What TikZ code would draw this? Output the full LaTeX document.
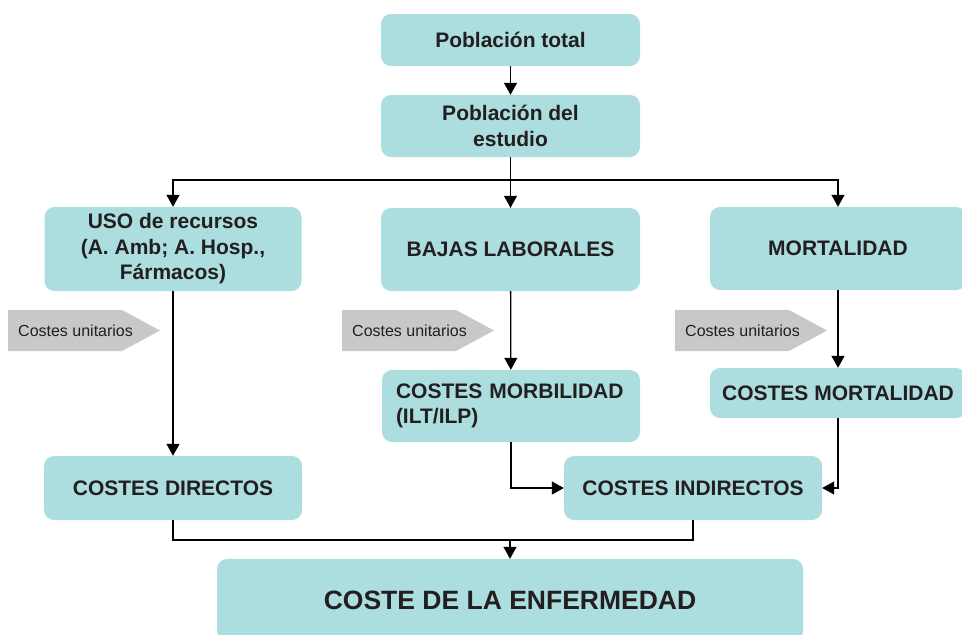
\documentclass[tikz,border=0pt]{standalone}
\usepackage{fontspec}
\setmainfont{Liberation Sans}
\usetikzlibrary{arrows.meta}
\definecolor{cajaazul}{HTML}{ACDDDF}
\definecolor{grisflecha}{HTML}{C8C8C8}
\definecolor{texto}{HTML}{231F20}

\begin{document}
\begin{tikzpicture}[x=1pt,y=-1pt,
  caja/.style={fill=cajaazul,rounded corners=10pt,inner sep=0pt,align=center,
    text=texto,font=\bfseries\fontsize{21}{25.5}\selectfont},
  flecha/.style={-{Triangle[length=12pt,width=13pt]},line width=1.3pt},
  linea/.style={line width=1.3pt},
  etiqueta/.style={text=texto,font=\fontsize{16}{18}\selectfont,inner sep=0pt}]
\useasboundingbox (0,0) rectangle (962,635);
% cajas
\node[caja,minimum width=259,minimum height=52] (total) at (510.5,40) {Población total};
\node[caja,minimum width=259,minimum height=62] (pobl) at (510.5,126) {Población del\\estudio};
\node[caja,minimum width=257,minimum height=84] (uso) at (173,249) {USO de recursos\\(A. Amb; A. Hosp.,\\Fármacos)};
\node[caja,minimum width=259,minimum height=83] (bajas) at (510.5,249.5) {BAJAS LABORALES};
\node[caja,minimum width=256,minimum height=83] (mort) at (838,248.5) {MORTALIDAD};
\node[caja,minimum width=258,minimum height=72,text width=230,align=left] (morb) at (511,406) {COSTES MORBILIDAD\\(ILT/ILP)};
\node[caja,minimum width=256,minimum height=50] (mortc) at (838,393) {COSTES MORTALIDAD};
\node[caja,minimum width=258,minimum height=64] (directos) at (173,488) {COSTES DIRECTOS};
\node[caja,minimum width=258,minimum height=64] (indirectos) at (693,488) {COSTES INDIRECTOS};
\node[caja,minimum width=586,minimum height=82,font=\bfseries\fontsize{26.5}{30}\selectfont] (enf) at (510,600) {COSTE DE LA ENFERMEDAD};
% costes unitarios
\foreach \x in {8,342,675}{
 \fill[grisflecha] (\x,310) -- (\x+114,310) -- (\x+152,330.5) -- (\x+114,351) -- (\x,351) -- cycle;
 \node[etiqueta,anchor=west] (cu\x) at (\x+10,331) {Costes unitarios};}
% conectores
\coordinate (rama) at (510.5,180);
\coordinate (union) at (510,540);
\draw[flecha] (total) -- (pobl);
\draw[flecha] (pobl) -- (bajas);
\draw[flecha] (rama) -| (uso.north);
\draw[flecha] (rama) -| (mort.north);
\draw[flecha] (uso) -- (directos);
\draw[flecha] (bajas) -- (morb);
\draw[flecha] (mort) -- (mortc);
\draw[flecha] (morb.south) |- (indirectos.west);
\draw[flecha] (mortc.south) |- (indirectos.east);
\draw[linea] (directos.south) |- (union) -| (indirectos.south);
\draw[flecha] (union) -- (enf.north);
\end{tikzpicture}
\end{document}
